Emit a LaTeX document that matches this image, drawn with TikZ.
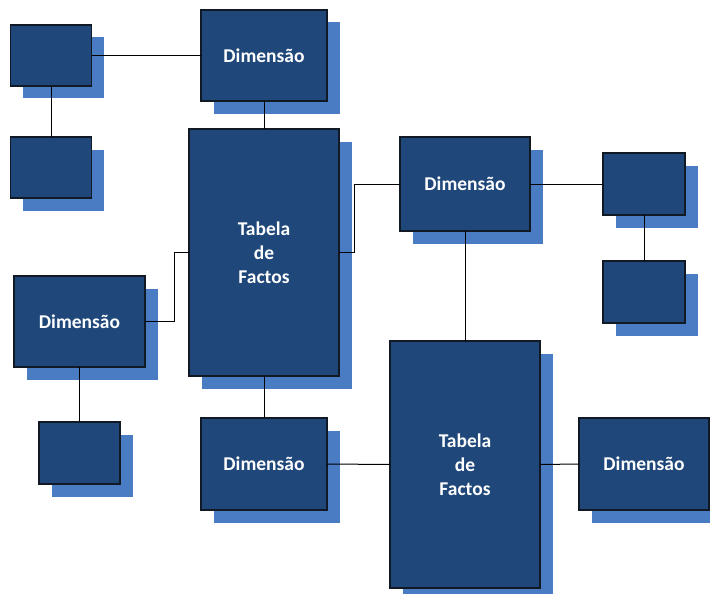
\documentclass[tikz,border=0pt]{standalone}
\usepackage{fontspec}
\setmainfont{Carlito}
\usetikzlibrary{shadows}
\definecolor{boxblue}{HTML}{1F477A}
\definecolor{shadowblue}{HTML}{4A7CC3}
\definecolor{edge}{HTML}{111A24}
\tikzset{
  box/.style={draw=edge, line width=1.2pt, fill=boxblue, inner sep=0pt, outer sep=0pt,
    text=white, font=\fontsize{19.5}{24}\selectfont\bfseries, align=center,
    drop shadow={shadow xshift=12.5pt, shadow yshift=-12.5pt, fill=shadowblue, opacity=1, draw=none}},
  link/.style={draw=black, line width=1pt}
}
\begin{document}
\begin{tikzpicture}[x=1pt,y=-1pt]
\useasboundingbox (0,0) rectangle (710,594);
\node[box, minimum width=81pt, minimum height=61pt] (b1) at (51,55.5) {};
\node[box, minimum width=81pt, minimum height=61pt] (b2) at (51,167.5) {};
\node[box, minimum width=126pt, minimum height=91pt] (d1) at (264,55.5) {Dimensão};
\node[box, minimum width=150pt, minimum height=247pt] (t1) at (264,252.5) {Tabela\\de\\Factos};
\node[box, minimum width=130pt, minimum height=94pt] (d2) at (465,184) {Dimensão};
\node[box, minimum width=82pt, minimum height=62pt] (b6) at (644,184) {};
\node[box, minimum width=82pt, minimum height=62pt] (b7) at (644,292) {};
\node[box, minimum width=131pt, minimum height=91pt] (d3) at (79.5,321.5) {Dimensão};
\node[box, minimum width=81pt, minimum height=62pt] (b9) at (79.5,453) {};
\node[box, minimum width=126pt, minimum height=92pt] (d4) at (264,464) {Dimensão};
\node[box, minimum width=150pt, minimum height=247pt] (t2) at (465,464.5) {Tabela\\de\\Factos};
\node[box, minimum width=130pt, minimum height=92pt] (d5) at (644,464) {Dimensão};
\draw[link] (b1.east) -- (d1.west);
\draw[link] (b1.south) -- (b2.north);
\draw[link] (d1.south) -- (t1.north);
\draw[link] (t1.west) -- ++(-15,0) |- (d3.east);
\draw[link] (t1.east) -- ++(15,0) |- (d2.west);
\draw[link] (d2.east) -- (b6.west);
\draw[link] (b6.south) -- (b7.north);
\draw[link] (d2.south) -- (t2.north);
\draw[link] (d3.south) -- (b9.north);
\draw[link] (t1.south) -- (d4.north);
\draw[link] (d4.east) -- (t2.west);
\draw[link] (t2.east) -- (d5.west);
\end{tikzpicture}
\end{document}
